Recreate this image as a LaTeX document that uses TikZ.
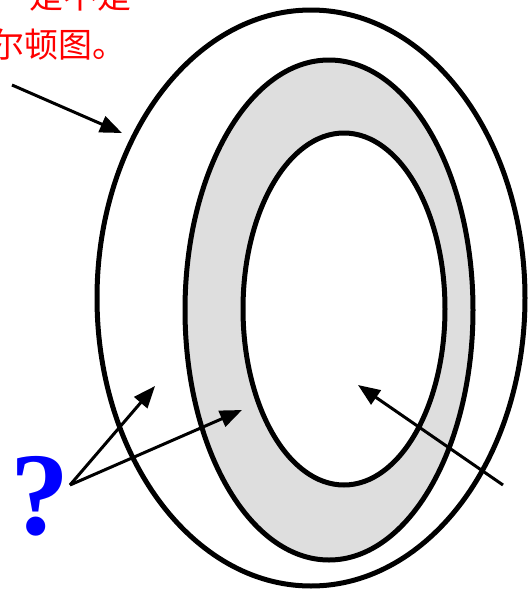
\documentclass[tikz,border=0pt]{standalone}
\usepackage{fontspec}
\newfontfamily\cjk{Noto Sans CJK SC}
\newfontfamily\qfont{Liberation Serif}
\usepackage{tikz}
\usetikzlibrary{shapes.geometric, arrows.meta, positioning}
\definecolor{ringgray}{HTML}{DEDEDE}
\tikzstyle{ring} = [ellipse, draw=black, line width=5pt, inner sep=0pt, outer sep=0pt]
\tikzstyle{note} = [text=red, font=\cjk\fontsize{34}{40}\selectfont, inner sep=0pt, anchor=east]
\tikzstyle{arrow2} = [line width=3pt, -{Triangle[length=22pt,width=17pt]}]

\begin{document}
\begin{tikzpicture}[x=1pt, y=-1pt]
            \useasboundingbox (0,0) rectangle (529,590);
            % Nodes
            \node (outer) [ring, fill=white, minimum width=428pt, minimum height=576pt] at (311,298) {};
            \node (middle) [ring, fill=ringgray, minimum width=288pt, minimum height=500pt] at (329,310) {};
            \node (inner) [ring, fill=white, minimum width=202pt, minimum height=352pt] at (344,309) {};

            \node (line1) [note] at (132,-4) {是不是};
            \node (line2) [note] at (127,45) {尔顿图。};
            \node (qmark) [text=blue, font=\qfont\bfseries\fontsize{118}{120}\selectfont, inner sep=0pt] at (40,496) {?};

            \coordinate (from1) at (12,85);
            \coordinate (tip1) at (122,133);
            \coordinate (qtail) at (70,485);
            \coordinate (tip2) at (155,386);
            \coordinate (tip3) at (242,410);
            \coordinate (from4) at (503,485);
            \coordinate (tip4) at (358,385);

            % Edges
            \draw [arrow2] (from1) -- (tip1);
            \draw [arrow2] (qtail) -- (tip2);
            \draw [arrow2] (qtail) -- (tip3);
            \draw [arrow2] (from4) -- (tip4);
        \end{tikzpicture}
\end{document}
